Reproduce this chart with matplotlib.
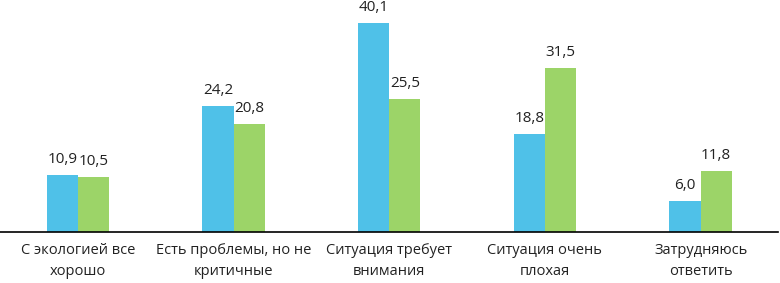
import numpy as np
import matplotlib.pyplot as plt

plt.rcParams['font.family'] = ['Open Sans', 'DejaVu Sans']

categories = ['С экологией все\nхорошо', 'Есть проблемы, но не\nкритичные',
              'Ситуация требует\nвнимания', 'Ситуация очень\nплохая',
              'Затрудняюсь\nответить']
series_a = [10.9, 24.2, 40.1, 18.8, 6.0]
series_b = [10.5, 20.8, 25.5, 31.5, 11.8]

fig = plt.figure(figsize=(7.8, 2.83), dpi=100)
ax = fig.add_axes([0.0, 0.18, 0.998, 0.82])

x = np.arange(len(categories))
w = 0.2
ba = ax.bar(x - w / 2, series_a, w, color='#4FC1E8')
bb = ax.bar(x + w / 2, series_b, w, color='#9CD468')

for bars, vals in ((ba, series_a), (bb, series_b)):
    for r, v in zip(bars, vals):
        ax.text(r.get_x() + r.get_width() / 2, v + 1.5, f'{v:.1f}'.replace('.', ','),
                ha='center', va='bottom', fontsize=11, color='#222222')

ax.set_xlim(-0.5, len(categories) - 0.5)
ax.set_ylim(0, 44.5)
ax.set_xticks(x)
ax.set_xticklabels(categories, fontsize=10.5, color='#222222', linespacing=1.5)
ax.tick_params(axis='x', length=0, pad=8)
ax.set_yticks([])
for s in ('top', 'right', 'left'):
    ax.spines[s].set_visible(False)
ax.spines['bottom'].set_color('#000000')
ax.spines['bottom'].set_linewidth(1.2)

fig.savefig('out.png', dpi=100)
